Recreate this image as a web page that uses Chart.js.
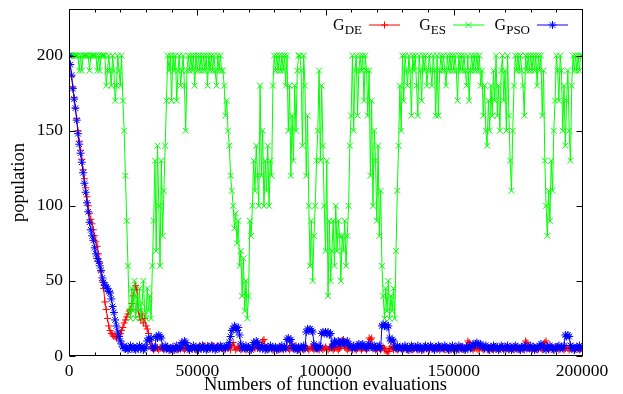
<!DOCTYPE html>
<html>
<head>
<meta charset="utf-8">
<script src="https://cdn.jsdelivr.net/npm/chart.js@4/dist/chart.umd.min.js"></script>
<style>
  html, body { margin: 0; padding: 0; background: #fff; }
  #wrap { width: 623px; height: 394px; }
</style>
</head>
<body>
<div id="wrap"><canvas id="popChart" width="623" height="394"></canvas></div>
<script>
// population size per sample, one sample every 500 function evaluations
const evalStep = 500;
const xTicks = [0, 50000, 100000, 150000, 200000];
const xMinorStep = 10000;
const yTicks = [0, 50, 100, 150, 200];
const legendNames = [['G', 'DE'], ['G', 'ES'], ['G', 'PSO']];

const gDE = [
  200,194,186,179,172,165,158,150,143,137,131,124,118,112,106,100,95,91,88,84,
  80,76,73,68,62,56,50,45,36,31,25,20,17,15,14,13,13,12,13,14,
  15,17,19,22,24,26,28,30,31,35,40,44,47,44,30,26,24,28,22,25,
  20,18,15,10,6,5,4,5,6,5,4,5,6,5,4,5,6,5,5,4,
  5,4,5,6,5,4,5,5,6,5,4,5,6,5,4,5,5,6,5,4,
  5,6,7,5,6,7,6,5,7,6,5,6,7,6,5,6,7,5,6,5,
  5,4,5,6,5,6,4,7,9,6,4,5,6,5,4,5,6,5,4,5,
  6,5,4,5,6,5,7,5,6,5,6,10,11,6,5,4,5,6,5,4,
  5,6,5,4,5,6,5,4,6,5,6,5,4,6,5,6,5,7,5,4,
  5,6,5,4,5,6,5,4,5,6,5,4,5,6,5,4,6,5,4,5,
  6,5,4,5,6,5,4,5,6,5,4,5,6,10,11,6,5,4,5,6,
  5,4,6,5,4,5,6,5,4,5,6,5,4,5,12,11,12,6,5,4,
  5,6,5,4,5,6,5,4,2,3,5,6,5,4,6,5,4,5,6,5,
  4,5,6,5,4,5,6,5,4,5,6,5,4,5,6,5,4,5,6,5,
  5,4,6,5,5,4,6,5,5,4,6,5,5,4,6,5,5,4,6,5,
  4,5,6,5,4,5,6,5,4,5,6,10,9,6,5,4,5,6,5,4,
  5,6,5,4,5,6,5,4,5,6,5,4,5,6,5,4,5,6,5,4,
  5,6,5,4,5,6,5,4,5,6,5,4,5,6,5,4,10,9,5,6,
  5,4,5,6,5,4,5,6,5,4,5,9,10,5,4,5,6,5,4,5,
  6,5,4,5,6,5,4,5,6,5,4,5,6,5,4,5,6,5,4,5,
  5
];

const gES = [
  200,200,200,200,200,200,200,200,190,200,190,200,200,200,200,200,190,200,200,200,
  200,200,190,200,190,200,200,200,200,180,190,200,190,180,200,190,170,180,200,190,
  180,200,170,150,120,90,60,30,25,45,30,50,25,40,30,45,25,35,50,30,
  25,45,30,40,25,60,90,130,70,140,100,60,130,80,110,140,170,200,190,200,
  170,200,190,200,170,190,200,180,190,200,180,150,190,200,190,200,190,200,180,200,
  190,200,190,200,190,200,190,200,180,200,190,200,190,200,190,180,200,190,200,190,
  190,180,160,170,150,140,120,110,100,85,95,75,90,60,70,40,65,30,50,25,
  40,90,80,100,130,110,140,120,100,180,120,150,100,130,110,140,100,130,120,180,
  200,190,200,190,200,190,200,190,200,180,200,150,180,120,160,130,180,150,190,200,
  200,190,140,200,180,120,160,100,60,90,50,80,100,130,150,190,130,180,140,100,
  70,130,40,90,50,70,90,60,100,70,90,80,50,80,70,90,60,80,100,140,
  160,200,150,190,200,160,190,200,190,200,170,200,190,160,190,120,170,100,150,130,
  90,140,80,110,60,40,25,45,30,50,25,40,30,45,25,70,110,140,180,150,
  200,170,200,190,180,200,190,160,200,190,200,180,160,200,190,170,200,190,200,180,
  190,200,190,180,200,190,160,200,160,190,200,190,200,190,180,200,190,200,190,200,
  190,200,190,170,200,190,200,190,200,190,180,200,170,190,200,190,200,190,200,190,
  200,180,190,160,180,150,140,170,150,180,160,190,170,200,160,180,150,190,200,170,
  190,150,200,160,130,110,150,180,200,190,200,190,200,190,180,160,200,190,200,190,
  200,190,200,190,200,180,200,190,200,160,190,130,100,80,110,90,130,110,150,170,
  200,190,170,200,190,150,180,140,170,190,150,130,180,200,190,200,190,200,190,200,
  200
];

const gPSO = [
  200,194,187,178,171,165,157,148,141,135,129,122,115,109,102,96,89,84,80,77,
  72,68,65,63,60,57,52,49,47,46,45,43,42,38,33,29,24,20,16,13,
  10,8,6,5,5,6,4,5,7,5,6,5,4,6,5,7,5,6,4,5,
  6,10,12,11,12,6,5,6,13,12,14,13,12,6,5,7,5,6,4,5,
  5,6,4,5,7,5,6,5,9,8,10,9,7,5,4,6,5,7,5,6,
  5,4,6,5,7,5,6,4,5,6,5,7,5,6,4,5,6,5,7,6,
  5,6,5,7,6,9,13,17,18,20,19,17,19,14,8,5,6,5,7,5,
  6,5,4,6,9,8,10,9,6,5,7,5,6,4,5,6,5,7,5,6,
  5,6,4,5,6,5,7,5,6,5,11,12,10,11,7,5,6,5,4,6,
  5,6,5,7,5,16,18,17,18,17,16,8,6,5,5,7,6,15,16,15,
  16,15,16,14,15,6,8,10,9,8,10,9,8,10,9,8,9,10,8,7,
  6,5,7,5,6,7,8,7,6,8,7,6,5,7,8,7,6,5,7,6,
  5,6,7,5,20,21,20,21,19,20,12,10,11,10,6,5,7,5,6,5,
  6,5,7,5,6,4,5,7,6,5,6,5,7,5,6,4,5,6,7,5,
  6,5,7,6,5,4,6,5,7,6,5,6,5,7,6,5,4,6,5,7,
  5,6,4,5,7,6,5,6,5,4,6,5,7,5,6,8,7,8,9,8,
  7,8,7,6,5,7,6,5,4,6,5,7,6,5,6,4,5,7,6,5,
  6,5,7,5,6,4,5,6,7,5,6,5,4,6,5,7,6,5,6,5,
  7,5,6,4,5,6,5,7,8,7,6,5,4,6,5,7,6,5,4,6,
  5,6,7,5,6,5,7,14,13,14,13,7,5,6,4,5,6,5,7,5,
  6
];

const serif = '"Liberation Serif", "DejaVu Serif", serif';
const tickFont = { family: serif, size: 17.5 };
const titleFont = { family: serif, size: 18.5, lineHeight: 1 };

const toPoints = arr => arr.map((v, i) => ({ x: i * evalStep, y: v }));

const styles = [
  { color: '#ff0000', point: 'cross', r: 3.5 },
  { color: '#00ff00', point: 'crossRot', r: 4.2 },
  { color: '#0000ff', point: 'star', r: 4 }
];

function drawMark(ctx, style, x, y, r) {
  ctx.beginPath();
  if (style !== 'crossRot') {
    ctx.moveTo(x - r, y); ctx.lineTo(x + r, y);
    ctx.moveTo(x, y - r); ctx.lineTo(x, y + r);
  }
  if (style !== 'cross') {
    const d = r * Math.SQRT1_2;
    ctx.moveTo(x - d, y - d); ctx.lineTo(x + d, y + d);
    ctx.moveTo(x - d, y + d); ctx.lineTo(x + d, y - d);
  }
  ctx.stroke();
}

const framePlugin = {
  id: 'gnuFrame',
  afterDraw(chart) {
    const { ctx, chartArea: a, scales: { x, y } } = chart;
    const L = Math.round(a.left) + 0.5, R = Math.round(a.right) + 0.5;
    const T = Math.round(a.top) + 0.5, B = Math.round(a.bottom) - 0.5;
    ctx.save();
    ctx.strokeStyle = '#000';
    ctx.lineWidth = 1;
    ctx.strokeRect(L, T, R - L, B - T);
    ctx.beginPath();
    for (let v = 0; v <= 200000; v += xMinorStep) {
      const px = Math.round(x.getPixelForValue(v)) + 0.5;
      const len = xTicks.includes(v) ? 6 : 3;
      ctx.moveTo(px, B); ctx.lineTo(px, B - len);
      ctx.moveTo(px, T); ctx.lineTo(px, T + len);
    }
    yTicks.forEach(v => {
      const py = Math.round(y.getPixelForValue(v)) + 0.5;
      ctx.moveTo(L, py); ctx.lineTo(L + 6, py);
      ctx.moveTo(R, py); ctx.lineTo(R - 6, py);
    });
    ctx.stroke();

    // key, top right, text before the sample like gnuplot
    const yLine = a.top + 16;
    legendNames.forEach((nm, k) => {
      const st = styles[k];
      const end = a.right - 14 - (2 - k) * 84;
      const start = end - 31;
      ctx.strokeStyle = st.color;
      ctx.beginPath(); ctx.moveTo(start, yLine); ctx.lineTo(end, yLine); ctx.stroke();
      drawMark(ctx, st.point, (start + end) / 2, yLine, st.r);
      ctx.font = '16px ' + serif;
      const wG = ctx.measureText(nm[0]).width;
      ctx.font = '13px ' + serif;
      const wS = ctx.measureText(nm[1]).width;
      const tx = start - 7 - wG - wS;
      ctx.fillStyle = '#000';
      ctx.textAlign = 'left';
      ctx.textBaseline = 'alphabetic';
      ctx.font = '16px ' + serif;
      ctx.fillText(nm[0], tx, yLine + 5);
      ctx.font = '13px ' + serif;
      ctx.fillText(nm[1], tx + wG, yLine + 9);
    });
    ctx.restore();
  }
};

const series = [gDE, gES, gPSO];
const drawOrder = [2, 1, 0];

new Chart(document.getElementById('popChart'), {
  type: 'line',
  data: {
    datasets: series.map((arr, k) => ({
      label: legendNames[k].join('_'),
      data: toPoints(arr),
      borderColor: styles[k].color,
      backgroundColor: styles[k].color,
      borderWidth: 1,
      pointStyle: styles[k].point,
      pointRadius: styles[k].r,
      pointBorderWidth: 1,
      pointBorderColor: styles[k].color,
      fill: false,
      tension: 0,
      order: drawOrder[k]
    }))
  },
  options: {
    responsive: false,
    animation: false,
    events: [],
    layout: { padding: { left: 0, right: 41, top: 9, bottom: 0 } },
    plugins: { legend: { display: false }, tooltip: { enabled: false } },
    scales: {
      x: {
        type: 'linear', min: 0, max: 200000,
        grid: { display: false, drawTicks: false },
        border: { display: false },
        afterBuildTicks: s => { s.ticks = xTicks.map(v => ({ value: v })); },
        ticks: { font: tickFont, color: '#000', padding: 5, maxRotation: 0, autoSkip: false,
                 callback: v => String(v) },
        title: { display: true, text: 'Numbers of function evaluations', font: titleFont,
                 color: '#000', padding: { top: 0, bottom: 0 } },
        afterFit: s => { s.height = 38; s.paddingLeft = 0; s.paddingRight = 0; }
      },
      y: {
        type: 'linear', min: 0, max: 231,
        grid: { display: false, drawTicks: false },
        border: { display: false },
        afterBuildTicks: s => { s.ticks = yTicks.map(v => ({ value: v })); },
        ticks: { font: tickFont, color: '#000', padding: 6 },
        title: { display: true, text: 'population', font: titleFont,
                 color: '#000', padding: { top: 10, bottom: 0 } },
        afterFit: s => { s.width = 69; s.paddingTop = 0; s.paddingBottom = 0; }
      }
    }
  },
  plugins: [framePlugin]
});
</script>
</body>
</html>
